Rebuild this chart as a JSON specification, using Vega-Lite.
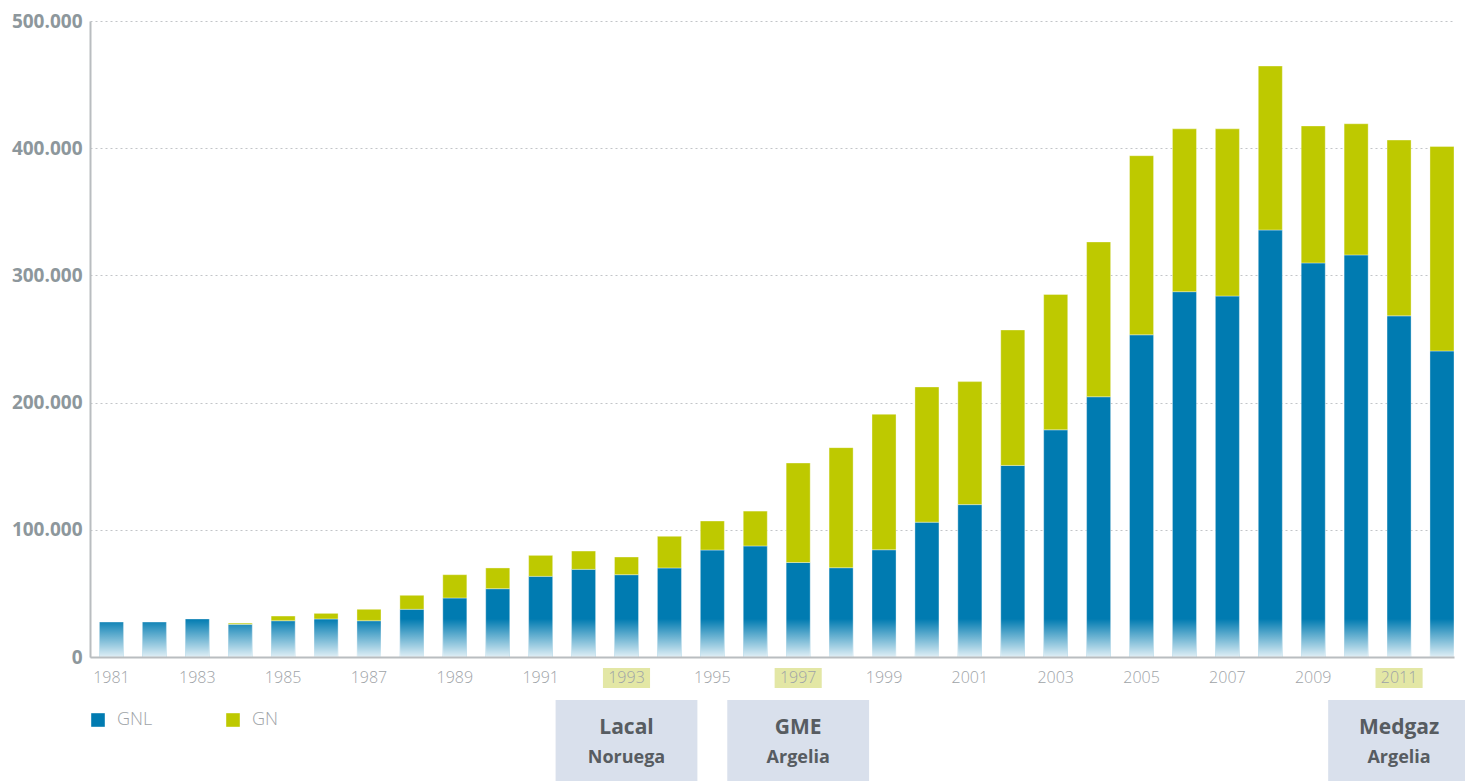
{
  "$schema": "https://vega.github.io/schema/vega-lite/v6.json",
  "autosize": {"type": "none"},
  "padding": {"left": 90, "top": 21, "right": 11, "bottom": 124},
  "width": 1364,
  "height": 636,
  "background": "white",
  "config": {
    "locale": {"number": {"decimal": ",", "thousands": ".", "grouping": [3], "currency": ["", " €"]}},
    "view": {"stroke": null},
    "font": "Open Sans"
  },
  "datasets": {
    "gas": [
      {"year": "1981", "type": "GNL", "value": 27500},
      {"year": "1982", "type": "GNL", "value": 27500},
      {"year": "1983", "type": "GNL", "value": 29900},
      {"year": "1984", "type": "GNL", "value": 25700},
      {"year": "1984", "type": "GN", "value": 1000},
      {"year": "1985", "type": "GNL", "value": 28500},
      {"year": "1985", "type": "GN", "value": 3700},
      {"year": "1986", "type": "GNL", "value": 29900},
      {"year": "1986", "type": "GN", "value": 4400},
      {"year": "1987", "type": "GNL", "value": 28500},
      {"year": "1987", "type": "GN", "value": 9000},
      {"year": "1988", "type": "GNL", "value": 37500},
      {"year": "1988", "type": "GN", "value": 11000},
      {"year": "1989", "type": "GNL", "value": 46400},
      {"year": "1989", "type": "GN", "value": 18300},
      {"year": "1990", "type": "GNL", "value": 53700},
      {"year": "1990", "type": "GN", "value": 16300},
      {"year": "1991", "type": "GNL", "value": 63400},
      {"year": "1991", "type": "GN", "value": 16500},
      {"year": "1992", "type": "GNL", "value": 68900},
      {"year": "1992", "type": "GN", "value": 14400},
      {"year": "1993", "type": "GNL", "value": 64700},
      {"year": "1993", "type": "GN", "value": 13900},
      {"year": "1994", "type": "GNL", "value": 70000},
      {"year": "1994", "type": "GN", "value": 24900},
      {"year": "1995", "type": "GNL", "value": 84100},
      {"year": "1995", "type": "GN", "value": 22800},
      {"year": "1996", "type": "GNL", "value": 87300},
      {"year": "1996", "type": "GN", "value": 27400},
      {"year": "1997", "type": "GNL", "value": 74300},
      {"year": "1997", "type": "GN", "value": 78200},
      {"year": "1998", "type": "GNL", "value": 70200},
      {"year": "1998", "type": "GN", "value": 94400},
      {"year": "1999", "type": "GNL", "value": 84300},
      {"year": "1999", "type": "GN", "value": 106500},
      {"year": "2000", "type": "GNL", "value": 106000},
      {"year": "2000", "type": "GN", "value": 106300},
      {"year": "2001", "type": "GNL", "value": 119800},
      {"year": "2001", "type": "GN", "value": 96700},
      {"year": "2002", "type": "GNL", "value": 150600},
      {"year": "2002", "type": "GN", "value": 106500},
      {"year": "2003", "type": "GNL", "value": 178600},
      {"year": "2003", "type": "GN", "value": 106400},
      {"year": "2004", "type": "GNL", "value": 204600},
      {"year": "2004", "type": "GN", "value": 121700},
      {"year": "2005", "type": "GNL", "value": 253300},
      {"year": "2005", "type": "GN", "value": 140800},
      {"year": "2006", "type": "GNL", "value": 287200},
      {"year": "2006", "type": "GN", "value": 128000},
      {"year": "2007", "type": "GNL", "value": 283800},
      {"year": "2007", "type": "GN", "value": 131400},
      {"year": "2008", "type": "GNL", "value": 335700},
      {"year": "2008", "type": "GN", "value": 128900},
      {"year": "2009", "type": "GNL", "value": 309800},
      {"year": "2009", "type": "GN", "value": 107700},
      {"year": "2010", "type": "GNL", "value": 316100},
      {"year": "2010", "type": "GN", "value": 103100},
      {"year": "2011", "type": "GNL", "value": 268200},
      {"year": "2011", "type": "GN", "value": 138200},
      {"year": "2012", "type": "GNL", "value": 240600},
      {"year": "2012", "type": "GN", "value": 160700}
    ],
    "hl": [{"year": "1993"}, {"year": "1997"}, {"year": "2011"}],
    "notes": [
      {"year": "1993", "line1": "Lacal", "line2": "Noruega"},
      {"year": "1997", "line1": "GME", "line2": "Argelia"},
      {"year": "2011", "line1": "Medgaz", "line2": "Argelia"}
    ]
  },
  "encoding": {
    "x": {
      "field": "year",
      "type": "ordinal",
      "scale": {"paddingInner": 0.44, "paddingOuter": 0.11, "align": 1},
      "axis": {
        "title": null,
        "zindex": 1,
        "labelAngle": 0,
        "values": ["1981","1983","1985","1987","1989","1991","1993","1995","1997","1999","2001","2003","2005","2007","2009","2011"],
        "labelFont": "Open Sans",
        "labelFontSize": 16,
        "labelFontWeight": 300,
        "labelColor": "#9ea3a7",
        "labelPadding": 12,
        "ticks": false,
        "domainColor": "#b9bdc0",
        "domainWidth": 2
      }
    }
  },
  "layer": [
    {
      "data": {"name": "gas"},
      "mark": {"type": "bar", "stroke": "#ffffff", "strokeOpacity": 0.35, "strokeWidth": 1},
      "encoding": {
        "y": {
          "field": "value",
          "type": "quantitative",
          "stack": "zero",
          "scale": {"domain": [0, 500000], "nice": false},
          "axis": {
            "title": null,
            "values": [0, 100000, 200000, 300000, 400000, 500000],
            "format": ",d",
            "labelFont": "Open Sans",
            "labelFontSize": 19,
            "labelFontWeight": "bold",
            "labelColor": "#8d979c",
            "labelPadding": 8,
            "ticks": false,
            "domainColor": "#b9bdc0",
            "domainWidth": 2,
            "grid": true,
            "gridColor": "#c2c5c8",
            "gridDash": [2, 3],
            "gridWidth": 1
          }
        },
        "color": {
          "field": "type",
          "type": "nominal",
          "scale": {"domain": ["GNL", "GN"], "range": ["#007bb1", "#bec900"]},
          "legend": {
            "title": null,
            "orient": "none",
            "direction": "horizontal",
            "legendX": -1,
            "legendY": 690,
            "padding": 0,
            "symbolType": "square",
            "symbolSize": 185,
            "symbolStrokeWidth": 0,
            "symbolOpacity": 1,
            "labelFont": "Open Sans",
            "labelFontSize": 18,
            "labelFontWeight": 300,
            "labelColor": "#9ea3a7",
            "labelOffset": 10,
            "columnPadding": 71
          }
        },
        "order": {"field": "type", "sort": "descending"}
      }
    },
    {
      "data": {"name": "gas"},
      "transform": [{"filter": "datum.type === 'GNL'"}],
      "mark": {
        "type": "bar",
        "fill": {
          "gradient": "linear",
          "x1": 0, "y1": 0, "x2": 0, "y2": 1,
          "stops": [
            {"offset": 0, "color": "rgba(255,255,255,0)"},
            {"offset": 1, "color": "rgba(255,255,255,0.88)"}
          ]
        }
      },
      "encoding": {
        "y": {"datum": 0, "type": "quantitative"},
        "y2": {"datum": 30000}
      }
    },
    {
      "data": {"name": "hl"},
      "mark": {"type": "bar", "fill": "#e3e7a5", "width": {"band": 1.96}},
      "encoding": {
        "y": {"datum": -8650, "type": "quantitative"},
        "y2": {"datum": -24400}
      }
    },
    {
      "data": {"name": "notes"},
      "mark": {"type": "bar", "fill": "#d9e0ec", "width": {"band": 5.9}},
      "encoding": {
        "y": {"datum": -33800, "type": "quantitative"},
        "y2": {"datum": -100000}
      }
    },
    {
      "data": {"name": "notes"},
      "mark": {"type": "text", "font": "Open Sans", "fontWeight": "bold", "fontSize": 21, "color": "#575c61", "baseline": "middle", "align": "center"},
      "encoding": {
        "y": {"datum": -55800, "type": "quantitative"},
        "text": {"field": "line1"}
      }
    },
    {
      "data": {"name": "notes"},
      "mark": {"type": "text", "font": "Open Sans", "fontWeight": "bold", "fontSize": 18, "color": "#575c61", "baseline": "middle", "align": "center"},
      "encoding": {
        "y": {"datum": -79400, "type": "quantitative"},
        "text": {"field": "line2"}
      }
    }
  ]
}
